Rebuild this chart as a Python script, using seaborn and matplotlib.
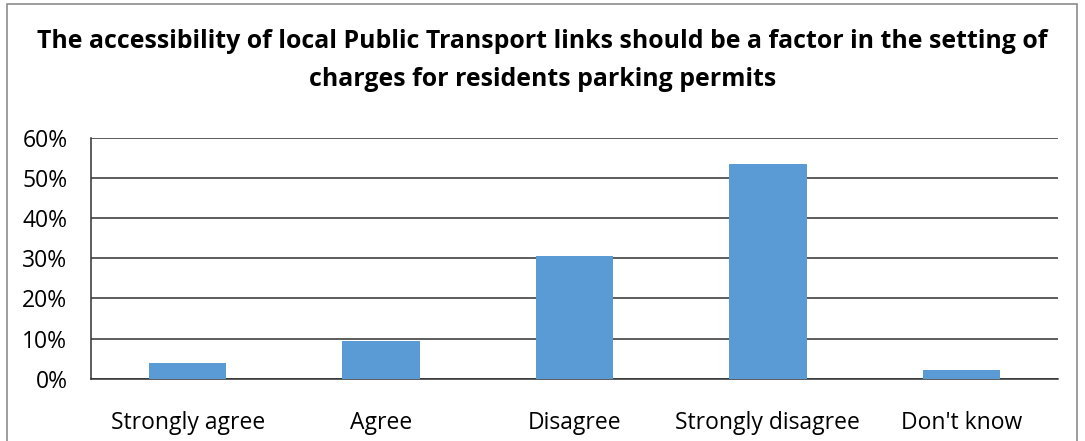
import matplotlib
matplotlib.use("Agg")
import matplotlib.pyplot as plt
import seaborn as sns
import pandas as pd
from matplotlib.ticker import FixedLocator, FuncFormatter
from matplotlib.patches import Rectangle

categories = ["Strongly agree", "Agree", "Disagree", "Strongly disagree", "Don't know"]
values = [3.9, 9.4, 30.6, 53.5, 2.2]
y_ticks = [0, 10, 20, 30, 40, 50, 60]
title_lines = ["The accessibility of local Public Transport links should be a factor in the setting of",
               "charges for residents parking permits"]

sns.set_theme(style="white")
plt.rcParams['font.family'] = ['Open Sans', 'DejaVu Sans']

df = pd.DataFrame({"category": categories, "value": values})

fig = plt.figure(figsize=(10.85, 4.41), dpi=100)
ax = fig.add_axes([91/1085, 62.3/441, (1058-91)/1085, (378.7-138)/441])

sns.barplot(data=df, x="category", y="value", color="#5B9BD5", width=0.4,
            saturation=1, linewidth=0, ax=ax, zorder=3)

ax.set_ylim(0, 60)
ax.set_xlim(-0.5, len(categories) - 0.5)
ax.yaxis.set_major_locator(FixedLocator(y_ticks))
ax.yaxis.set_major_formatter(FuncFormatter(lambda v, p: f"{int(v)}%"))
ax.yaxis.grid(True, color="#303030", linewidth=1.1, zorder=0)
ax.xaxis.grid(False)
ax.set_axisbelow(True)

for s in ["top", "right"]:
    ax.spines[s].set_visible(False)
for s in ["left", "bottom"]:
    ax.spines[s].set_color("#303030")
    ax.spines[s].set_linewidth(1.1)

ax.set_xticks([i - 0.5 for i in range(len(categories) + 1)], minor=True)
ax.tick_params(axis="x", which="minor", length=7, width=1.1, color="#303030", direction="out")
ax.tick_params(axis="x", which="major", length=0, labelsize=16.5, pad=23, labelcolor="black")
ax.tick_params(axis="y", which="major", length=6, width=1.1, color="#303030", direction="out",
               labelsize=16.5, pad=11, labelcolor="black")
ax.set_xlabel("")
ax.set_ylabel("")

fig.text(0.5, 1 - 41/441, title_lines[0], ha="center", va="center", fontsize=17.9,
         fontweight="bold", color="black")
fig.text(0.5, 1 - 79/441, title_lines[1], ha="center", va="center", fontsize=17.9,
         fontweight="bold", color="black")

fig.patches.append(Rectangle((7/1085, -0.05), (1077-7)/1085, 1 - 4/441 + 0.05,
                             transform=fig.transFigure, fill=False,
                             edgecolor="#8c8c8c", linewidth=1.2))

fig.savefig("out.png", dpi=100)
